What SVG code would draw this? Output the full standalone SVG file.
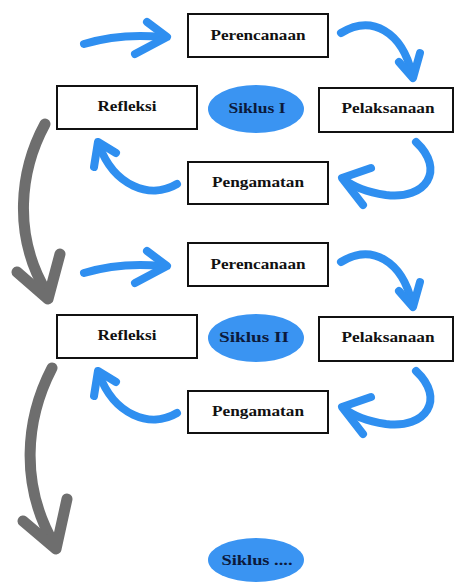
<svg xmlns="http://www.w3.org/2000/svg" width="456" height="583" viewBox="0 0 456 583">
<defs>
<style>
.box{fill:#fff;stroke:#111;stroke-width:2}
.t{font-family:"Liberation Serif","Times New Roman",serif;font-weight:bold;font-size:14px;fill:#111;text-anchor:middle}
.oval{fill:#3a94f2}
.ot{font-family:"Liberation Serif","Times New Roman",serif;font-weight:bold;font-size:14px;fill:#0c1a3c;text-anchor:middle}
.blue{fill:none;stroke:#2f8ff0;stroke-width:8;stroke-linecap:round;stroke-linejoin:round}
.gray{fill:none;stroke:#6e6e6e;stroke-width:11;stroke-linecap:round;stroke-linejoin:round}
</style>
</defs>
<rect width="456" height="583" fill="#fff"/>
<g id="connectors">
<g id="c1">
<path class="blue" d="M84,44 Q120,33 162,37"/>
<path class="blue" d="M147,22 L167,37 L135,54"/>
<path class="blue" d="M341,33 C372,14 402,32 412,74"/>
<path class="blue" d="M399,62 L413,78 L420,53"/>
<path class="blue" d="M416,142 C446,170 426,200 386,195 C366,192 352,186 344,179"/>
<path class="blue" d="M371,168 L342,178 L363,205"/>
<path class="blue" d="M177,184 C150,200 114,186 99,145"/>
<path class="blue" d="M94,167 L98,142 L116,153"/>
</g>
<g id="c2" transform="translate(0,229)">
<path class="blue" d="M84,44 Q120,33 162,37"/>
<path class="blue" d="M147,22 L167,37 L135,54"/>
<path class="blue" d="M341,33 C372,14 402,32 412,74"/>
<path class="blue" d="M399,62 L413,78 L420,53"/>
<path class="blue" d="M416,142 C446,170 426,200 386,195 C366,192 352,186 344,179"/>
<path class="blue" d="M371,168 L342,178 L363,205"/>
<path class="blue" d="M177,184 C150,200 114,186 99,145"/>
<path class="blue" d="M94,167 L98,142 L116,153"/>
</g>
<path class="gray" d="M45,124 C20,170 12,235 47,293"/>
<path class="gray" d="M17,272 L48,299 L60,254"/>
<path class="gray" d="M52,368 C25,420 20,485 54,544"/>
<path class="gray" d="M23,521 L56,549 L67,499"/>
</g>
<g id="perencanaan1"><rect class="box" x="188" y="14" width="140" height="43"/><text class="t" x="258" y="40" textLength="95" lengthAdjust="spacingAndGlyphs">Perencanaan</text></g>
<g id="refleksi1"><rect class="box" x="57" y="86" width="140" height="43"/><text class="t" x="127" y="111" textLength="59" lengthAdjust="spacingAndGlyphs">Refleksi</text></g>
<g id="pelaksanaan1"><rect class="box" x="319" y="88" width="134" height="44"/><text class="t" x="388" y="113" textLength="93" lengthAdjust="spacingAndGlyphs">Pelaksanaan</text></g>
<g id="pengamatan1"><rect class="box" x="188" y="162" width="140" height="42"/><text class="t" x="258" y="187" textLength="92" lengthAdjust="spacingAndGlyphs">Pengamatan</text></g>
<g id="siklus1"><ellipse class="oval" cx="256" cy="109" rx="48" ry="24"/><text class="ot" x="257" y="113" textLength="57" lengthAdjust="spacingAndGlyphs">Siklus I</text></g>
<g id="perencanaan2"><rect class="box" x="188" y="243" width="140" height="43"/><text class="t" x="258" y="269" textLength="95" lengthAdjust="spacingAndGlyphs">Perencanaan</text></g>
<g id="refleksi2"><rect class="box" x="57" y="315" width="140" height="43"/><text class="t" x="127" y="340" textLength="59" lengthAdjust="spacingAndGlyphs">Refleksi</text></g>
<g id="pelaksanaan2"><rect class="box" x="319" y="317" width="134" height="44"/><text class="t" x="388" y="342" textLength="93" lengthAdjust="spacingAndGlyphs">Pelaksanaan</text></g>
<g id="pengamatan2"><rect class="box" x="188" y="391" width="140" height="42"/><text class="t" x="258" y="416" textLength="92" lengthAdjust="spacingAndGlyphs">Pengamatan</text></g>
<g id="siklus2"><ellipse class="oval" cx="256" cy="338" rx="48" ry="24"/><text class="ot" x="254" y="342" textLength="70" lengthAdjust="spacingAndGlyphs">Siklus II</text></g>
<g id="siklus3"><ellipse class="oval" cx="256" cy="560" rx="48" ry="22"/><text class="ot" x="257" y="565" textLength="71" lengthAdjust="spacingAndGlyphs">Siklus ....</text></g>
</svg>
